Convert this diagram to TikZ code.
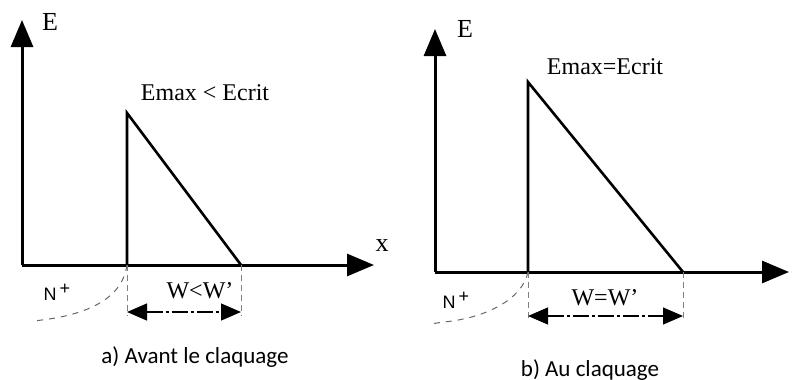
\documentclass[tikz,border=0pt]{standalone}
\usepackage{fontspec}
\setmainfont{Liberation Serif}
\newfontfamily\capfont{Carlito}
\newfontfamily\dopfont{Liberation Sans}
\usetikzlibrary{arrows.meta,positioning}

\begin{document}
\begin{tikzpicture}[
    x=0.5pt, y=-0.5pt,
    axis/.style={-{Triangle[length=13.5pt,width=11pt]},line width=1.5pt},
    field/.style={line width=1.3pt,line join=miter},
    guide/.style={gray,line width=0.5pt,densely dashed},
    wspan/.style={{Triangle[length=10pt,width=8.5pt]}-{Triangle[length=10pt,width=8.5pt]},
                 line width=0.6pt,dash pattern=on 8pt off 1.5pt on 1.5pt off 1.5pt},
    junc/.style={gray!80!black,line width=0.5pt,dashed},
    lbl/.style={font=\fontsize{12}{14}\selectfont,inner sep=0pt},
    axlbl/.style={font=\fontsize{13}{15}\selectfont,inner sep=0pt},
    dop/.style={font=\dopfont\fontsize{9}{10}\selectfont,inner sep=0pt},
    captext/.style={font=\capfont\fontsize{11.5}{13}\selectfont,inner sep=0pt}]

    \useasboundingbox (0,0) rectangle (794,380);

    % a) Avant le claquage
    \coordinate (oa)   at (22,265);
    \coordinate (ya)   at (22,20);
    \coordinate (xa)   at (374,265);
    \coordinate (ja)   at (127,265);
    \coordinate (pka)  at (127,113);
    \coordinate (wa)   at (241,265);
    \coordinate (jla)  at (127,312);
    \coordinate (wla)  at (241,312);
    \coordinate (nta)  at (33,321);
    \draw[axis] (oa) -- (ya);
    \draw[axis] (oa) -- (xa);
    \draw[field] (ja) -- (pka) -- (wa);
    \draw[guide] (ja) -- (127,316);
    \draw[guide] (wa) -- (241,316);
    \draw[wspan] (jla) -- (wla);
    \draw[junc] (ja) .. controls (122,300) and (85,316) .. (nta);
    \node[axlbl] (ea)  at (50,22)   {E};
    \node[axlbl] (xla) at (382,246) {x};
    \node[lbl] (emaxa) at (205,93)  {Emax < Ecrit};
    \node[lbl] (wwa)   at (200,291) {W<W'};
    \node[dop] (npa)   at (57,292)  {N\,\raisebox{3pt}{+}};
    \node[captext] (capa) at (195,357) {a) Avant le claquage};

    % b) Au claquage
    \coordinate (ob)   at (435,272);
    \coordinate (yb)   at (435,29);
    \coordinate (xb)   at (789,272);
    \coordinate (jb)   at (528,272);
    \coordinate (pkb)  at (528,82);
    \coordinate (wb)   at (683,272);
    \coordinate (jlb)  at (528,316);
    \coordinate (wlb)  at (683,316);
    \coordinate (ntb)  at (444,322);
    \coordinate (nub)  at (430,324);
    \draw[axis] (ob) -- (yb);
    \draw[axis] (ob) -- (xb);
    \draw[field] (jb) -- (pkb) -- (wb);
    \draw[guide] (jb) -- (528,318);
    \draw[guide] (wb) -- (683,318);
    \draw[wspan] (jlb) -- (wlb);
    \draw[junc] (jb) .. controls (522,300) and (485,318) .. (ntb) -- (nub);
    \node[axlbl] (eb)  at (465,29)  {E};
    \node[lbl] (emaxb) at (605,67)  {Emax=Ecrit};
    \node[lbl] (wwb)   at (605,298) {W=W'};
    \node[dop] (npb)   at (456,300) {N\,\raisebox{3pt}{+}};
    \node[captext] (capb) at (590,370) {b) Au claquage};
\end{tikzpicture}
\end{document}
